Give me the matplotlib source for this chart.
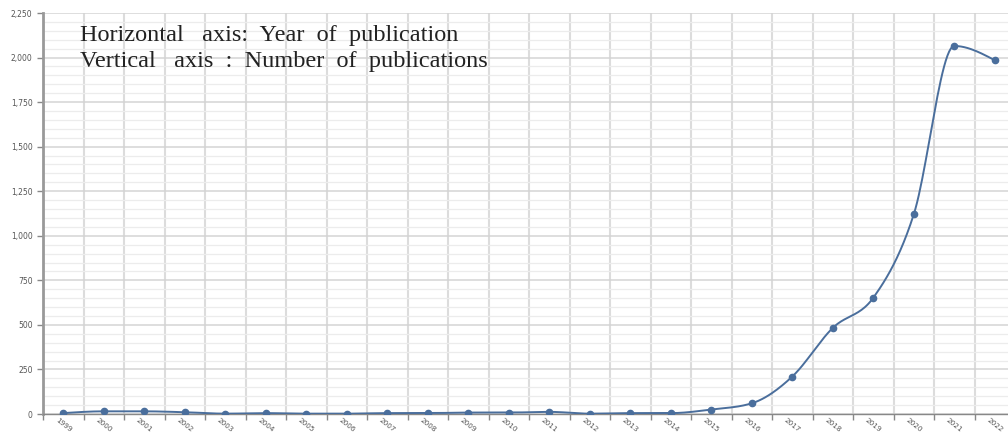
import numpy as np
import matplotlib.pyplot as plt
from matplotlib.ticker import MultipleLocator, FuncFormatter

years = [str(y) for y in range(1999, 2023)]
publications = [5, 15, 15, 10, 2, 5, 2, 2, 5, 5, 8, 8, 12, 2, 5, 5,
                25, 60, 210, 483, 652, 1120, 2065, 1985]


def monotone(xs, ys, n=24):
    # monotone cubic interpolation (like d3 curveMonotoneX) for the smooth line
    xs = np.asarray(xs, float)
    ys = np.asarray(ys, float)
    h = np.diff(xs)
    s = np.diff(ys) / h
    m = np.zeros(len(xs))
    for i in range(1, len(xs) - 1):
        p = (s[i - 1] * h[i] + s[i] * h[i - 1]) / (h[i - 1] + h[i])
        m[i] = (np.sign(s[i - 1]) + np.sign(s[i])) * min(abs(s[i - 1]), abs(s[i]), 0.5 * abs(p))
    m[0] = (3 * s[0] - m[1]) / 2
    m[-1] = (3 * s[-1] - m[-2]) / 2
    outx, outy = [], []
    for i in range(len(xs) - 1):
        t = np.linspace(0, 1, n, endpoint=False)
        h00 = 2 * t**3 - 3 * t**2 + 1
        h10 = t**3 - 2 * t**2 + t
        h01 = -2 * t**3 + 3 * t**2
        h11 = t**3 - t**2
        outx.extend(xs[i] + t * h[i])
        outy.extend(h00 * ys[i] + h10 * h[i] * m[i] + h01 * ys[i + 1] + h11 * h[i] * m[i + 1])
    outx.append(xs[-1])
    outy.append(ys[-1])
    return np.array(outx), np.array(outy)


fig = plt.figure(figsize=(10.08, 4.36), dpi=100)
ax = fig.add_axes([43 / 1008, 22 / 436, 972 / 1008, 401 / 436])

x = np.arange(len(years))
sx, sy = monotone(x, publications)
ax.plot(sx, sy, color='#4a6e9c', linewidth=1.4, zorder=3)
ax.plot(x, publications, 'o', color='#4a6e9c', markersize=4.5, zorder=4)

ax.set_xlim(-0.5, len(years) - 0.5)
ax.set_ylim(0, 2250)

# grid
ax.yaxis.set_major_locator(MultipleLocator(250))
ax.yaxis.set_minor_locator(MultipleLocator(50))
ax.set_xticks(x)
ax.set_xticks(np.arange(len(years) + 1) - 0.5, minor=True)
ax.grid(which='major', axis='y', color='#d4d4d4', linewidth=1.1)
ax.grid(which='minor', axis='y', color='#ececec', linewidth=0.9)
ax.grid(which='minor', axis='x', color='#dcdcdc', linewidth=1.5)
ax.set_axisbelow(True)

ax.set_xticklabels(years, rotation=-38, ha='center', fontsize=5.2, color='#555555')
ax.tick_params(axis='x', which='major', length=0, pad=2)
ax.tick_params(axis='x', which='minor', length=4, color='#888888', width=1)
ax.tick_params(axis='y', which='major', length=4, color='#888888', width=1,
               labelsize=5.5, labelcolor='#555555')
ax.tick_params(axis='y', which='minor', length=0)
ax.yaxis.set_major_formatter(FuncFormatter(lambda v, p: f"{int(v):,}"))

for s in ['top', 'right']:
    ax.spines[s].set_visible(False)
ax.spines['left'].set_color('#999999')
ax.spines['left'].set_linewidth(2)
ax.spines['bottom'].set_color('#888888')
ax.spines['bottom'].set_linewidth(1)

fig.text(80 / 1008, 1 - 36 / 436, "Horizontal   axis:  Year  of  publication",
         family='Liberation Serif', fontsize=17.5, color='#222222', va='center')
fig.text(80 / 1008, 1 - 61 / 436, "Vertical   axis  :  Number  of  publications",
         family='Liberation Serif', fontsize=17.5, color='#222222', va='center')

fig.savefig('out.png', dpi=100)
